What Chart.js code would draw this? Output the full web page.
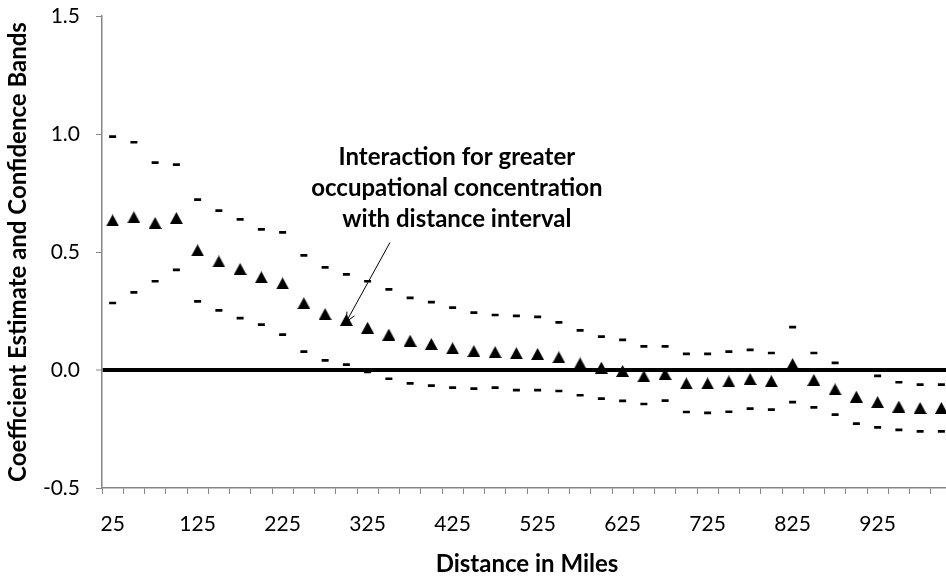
<!DOCTYPE html>
<html>
<head>
<meta charset="utf-8">
<script src="https://cdn.jsdelivr.net/npm/chart.js@4.4.0/dist/chart.umd.min.js"></script>
<style>
  html, body { margin: 0; padding: 0; background: #fff; overflow: hidden; }
  #wrap { width: 960px; height: 576px; position: relative; }
</style>
</head>
<body>
<div id="wrap"><canvas id="chart"></canvas></div>
<script>
// distance intervals (miles)
const distances = [25, 50, 75, 100, 125, 150, 175, 200, 225, 250, 275, 300, 325, 350, 375, 400, 425, 450, 475, 500,
  525, 550, 575, 600, 625, 650, 675, 700, 725, 750, 775, 800, 825, 850, 875, 900, 925, 950, 975, 1000];

// coefficient estimate (triangles)
const estimate = [0.634, 0.647, 0.623, 0.644, 0.507, 0.46, 0.428, 0.393, 0.367, 0.283, 0.237, 0.212, 0.179, 0.15,
  0.124, 0.11, 0.092, 0.08, 0.076, 0.071, 0.068, 0.054, 0.028, 0.01, -0.004, -0.027, -0.017, -0.057, -0.057, -0.048,
  -0.038, -0.047, 0.025, -0.042, -0.082, -0.113, -0.136, -0.155, -0.161, -0.161];

// upper / lower confidence bands (dashes)
const upperBand = [0.989, 0.965, 0.879, 0.87, 0.722, 0.675, 0.638, 0.596, 0.583, 0.486, 0.435, 0.405, 0.376, 0.342,
  0.306, 0.288, 0.264, 0.243, 0.233, 0.229, 0.225, 0.202, 0.168, 0.141, 0.128, 0.1, 0.1, 0.068, 0.068, 0.078,
  0.085, 0.072, 0.182, 0.072, 0.03, -0.003, -0.025, -0.052, -0.062, -0.062];
const lowerBand = [0.284, 0.329, 0.376, 0.424, 0.291, 0.253, 0.22, 0.192, 0.15, 0.078, 0.041, 0.023, -0.008, -0.037,
  -0.057, -0.066, -0.075, -0.079, -0.075, -0.085, -0.085, -0.089, -0.107, -0.121, -0.131, -0.144, -0.13, -0.178,
  -0.182, -0.177, -0.164, -0.168, -0.136, -0.158, -0.189, -0.227, -0.243, -0.254, -0.26, -0.26];

const yTicks = [-0.5, 0.0, 0.5, 1.0, 1.5];
const labelEvery = 4;

const noteLines = ["Interaction for greater", "occupational concentration", "with distance interval"];
const noteAt = { index: 16.2, value: 0.9 };      // centre of first text line
const arrowFrom = { index: 13.05, value: 0.54 };
const arrowTo = { index: 11.0, value: 0.205 };

// triangle marker (bbox centred on the value, like Excel)
function makeTriangle() {
  const c = document.createElement("canvas");
  c.width = 13; c.height = 12;
  const g = c.getContext("2d");
  g.fillStyle = "#000";
  g.beginPath();
  g.moveTo(6.5, 0);
  g.lineTo(13, 12);
  g.lineTo(0, 12);
  g.closePath();
  g.fill();
  return c;
}
const triangle = makeTriangle();

// --- annotation: text + arrow ---
const notePlugin = {
  id: "note",
  afterDatasetsDraw(chart) {
    const ctx = chart.ctx;
    const xs = chart.scales.x, ys = chart.scales.y;
    ctx.save();
    ctx.fillStyle = "#000";
    ctx.font = "bold 24px Lato";
    ctx.textAlign = "center";
    ctx.textBaseline = "middle";
    const tx = xs.getPixelForValue(noteAt.index);
    const ty = ys.getPixelForValue(noteAt.value);
    noteLines.forEach((line, i) => ctx.fillText(line, tx, ty + i * 31));

    const x1 = xs.getPixelForValue(arrowFrom.index), y1 = ys.getPixelForValue(arrowFrom.value);
    const x2 = xs.getPixelForValue(arrowTo.index), y2 = ys.getPixelForValue(arrowTo.value);
    ctx.strokeStyle = "#000";
    ctx.lineWidth = 1;
    ctx.beginPath();
    ctx.moveTo(x1, y1);
    ctx.lineTo(x2, y2);
    const ang = Math.atan2(y2 - y1, x2 - x1);
    const head = 10, spread = 0.45;
    ctx.moveTo(x2 - head * Math.cos(ang - spread), y2 - head * Math.sin(ang - spread));
    ctx.lineTo(x2, y2);
    ctx.lineTo(x2 - head * Math.cos(ang + spread), y2 - head * Math.sin(ang + spread));
    ctx.stroke();
    ctx.restore();
  },
};

const ctx = document.getElementById("chart").getContext("2d");
new Chart(ctx, {
  type: "line",
  data: {
    labels: distances,
    datasets: [
      {
        label: "Upper",
        data: upperBand,
        showLine: false,
        pointStyle: "line",
        radius: 3.5,
        borderWidth: 2.7,
        borderColor: "#000",
        backgroundColor: "#000",
      },
      {
        label: "Lower",
        data: lowerBand,
        showLine: false,
        pointStyle: "line",
        radius: 3.5,
        borderWidth: 2.7,
        borderColor: "#000",
        backgroundColor: "#000",
      },
      {
        label: "Estimate",
        data: estimate,
        showLine: false,
        pointStyle: triangle,
        radius: 6,
        borderColor: "#000",
        backgroundColor: "#000",
      },
    ],
  },
  options: {
    responsive: true,
    maintainAspectRatio: false,
    animation: false,
    layout: { autoPadding: false, padding: { left: 0, right: 8, top: 16, bottom: 0 } },
    plugins: { legend: { display: false }, tooltip: { enabled: false } },
    scales: {
      x: {
        type: "category",
        offset: true,
        border: { color: "#868686", width: 1.5 },
        grid: { offset: true, drawOnChartArea: false, drawTicks: true, tickLength: 6, color: "#868686", lineWidth: 1 },
        ticks: {
          autoSkip: false,
          maxRotation: 0,
          padding: 18,
          color: "#000",
          font: { family: "Lato", size: 21 },
          callback: (v, i) => (i % labelEvery === 0 ? distances[i] : ""),
        },
        title: {
          display: true,
          text: "Distance in Miles",
          color: "#000",
          font: { family: "Lato", size: 24, weight: "bold" },
          padding: { top: 0, bottom: -3 },
        },
        afterFit: (s) => { s.height = 88; s.paddingLeft = 0; s.paddingRight = 0; },
      },
      y: {
        min: -0.5,
        max: 1.5,
        border: { color: "#868686", width: 1.5 },
        grid: {
          drawTicks: true,
          tickLength: 6,
          tickColor: "#868686",
          tickWidth: 1,
          color: (c) => (c.tick && c.tick.value === 0 ? "#000" : "rgba(0,0,0,0)"),
          lineWidth: (c) => (c.tick && c.tick.value === 0 ? 4 : 1),
        },
        afterBuildTicks: (s) => { s.ticks = yTicks.map((v) => ({ value: v })); },
        ticks: {
          padding: 16,
          color: "#000",
          font: { family: "Lato", size: 21 },
          callback: (v) => Number(v).toFixed(1),
        },
        title: {
          display: true,
          text: "Coefficient Estimate and Confidence Bands",
          color: "#000",
          font: { family: "Lato", size: 24, weight: "bold" },
          padding: { top: 4, bottom: 0 },
        },
        afterFit: (s) => { s.width = 102; s.paddingTop = 0; s.paddingBottom = 0; },
      },
    },
  },
  plugins: [notePlugin],
});
</script>
</body>
</html>
